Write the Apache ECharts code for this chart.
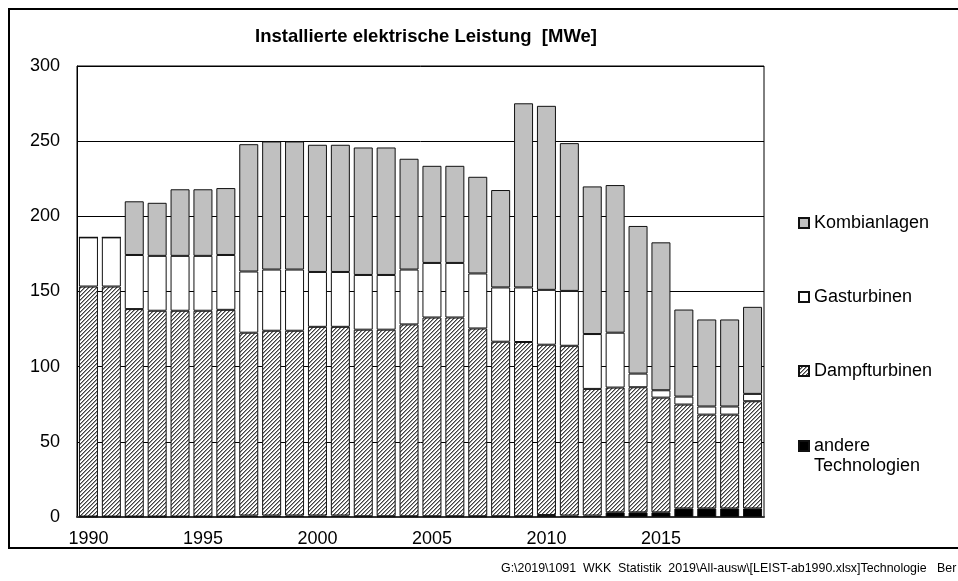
<!DOCTYPE html>
<html>
<head>
<meta charset="utf-8">
<script src="https://cdn.jsdelivr.net/npm/echarts@6/dist/echarts.min.js"></script>
<style>
  html, body { margin: 0; padding: 0; background: #fff; }
  #main { width: 958px; height: 581px; }
</style>
</head>
<body>
<div id="main"></div>
<script>
// Jahre
var years = [];
for (var y = 1990; y <= 2019; y++) years.push(String(y));

// installierte Leistung [MWe] nach Technologie
var andere = [0.3, 0.3, 0.3, 0.3, 0.3, 0.3, 0.3, 1.0, 1.0, 1.0, 1.0, 1.0, 0.5, 0.5, 0.5,
    0.5, 0.5, 0.5, 0.5, 0.5, 1.3, 1.0, 1.0, 3.1, 3.1, 3.1, 5.7, 5.7, 5.7, 5.7];
var dampf = [153.0, 153.0, 138.0, 136.9, 136.9, 136.9, 137.5, 121.6, 122.9, 122.9, 125.5, 125.5, 124.1, 124.1, 127.6,
    132.2, 132.2, 124.9, 116.1, 115.9, 113.3, 112.9, 84.2, 83.0, 83.2, 76.3, 69.1, 62.4, 62.4, 71.3];
var gas = [32.7, 32.7, 36.0, 36.5, 36.5, 36.5, 36.5, 40.7, 40.7, 40.7, 36.5, 36.5, 36.4, 36.4, 36.5,
    36.3, 36.3, 36.6, 36.1, 36.3, 36.5, 36.5, 36.5, 36.5, 9.1, 4.9, 5.3, 5.4, 5.4, 4.9];
var kombi = [0, 0, 35.7, 35.3, 44.3, 44.3, 44.5, 84.7, 85.2, 85.2, 84.6, 84.6, 84.8, 84.8, 73.7,
    64.6, 64.6, 64.3, 64.8, 122.5, 122.4, 98.3, 98.2, 98.2, 98.2, 98.4, 57.9, 57.9, 57.9, 57.9];

// Schraffur fuer Dampfturbinen
var hatch = document.createElement('canvas');
hatch.width = 4;
hatch.height = 4;
var hc = hatch.getContext('2d');
hc.fillStyle = '#ffffff';
hc.fillRect(0, 0, 4, 4);
for (var i = 0; i < 4; i++) {
    hc.fillStyle = '#404040';
    hc.fillRect(3 - i, i, 1, 1);
    hc.fillStyle = '#9a9a9a';
    hc.fillRect((4 - i) % 4, i, 1, 1);
}

var font = 'Liberation Sans, Arial, sans-serif';
var barW = 19;

function bar(name, data, color) {
    return {
        name: name,
        type: 'bar',
        stack: 'total',
        barWidth: barW,
        data: data,
        itemStyle: { color: color, borderColor: '#111', borderWidth: 1 }
    };
}

function legendItem(name, top, fmt) {
    var l = {
        data: [name],
        left: 798,
        top: top,
        padding: 0,
        icon: 'rect',
        itemWidth: 10,
        itemHeight: 10,
        selectedMode: false,
        textStyle: { fontFamily: font, fontSize: 18, color: '#000' }
    };
    if (fmt) {
        l.formatter = fmt;
        l.textStyle.lineHeight = 20;
    }
    return l;
}

var option = {
    animation: false,
    backgroundColor: '#fff',
    title: {
        text: 'Installierte elektrische Leistung  [MWe]',
        left: 421,
        top: 22,
        textAlign: 'center',
        textStyle: { fontFamily: font, fontSize: 18.5, fontWeight: 'bold', color: '#000' }
    },
    legend: [
        legendItem('Kombianlagen', 214),
        legendItem('Gasturbinen', 288),
        legendItem('Dampfturbinen', 362),
        // leere erste Zeile, damit das Symbol auf Hoehe von "andere" steht
        legendItem('andere Technologien', 416, function () { return ' \nandere\nTechnologien'; })
    ],
    grid: {
        left: 77,
        top: 66,
        width: 687,
        height: 451,
        show: true,
        borderColor: '#000',
        borderWidth: 1
    },
    xAxis: {
        type: 'category',
        data: years,
        axisLine: { lineStyle: { color: '#333', width: 2 } },
        axisTick: { show: false },
        axisLabel: {
            interval: function (idx) { return idx % 5 === 0; },
            fontFamily: font,
            fontSize: 18,
            color: '#000',
            margin: 13
        }
    },
    yAxis: {
        type: 'value',
        min: 0,
        max: 300,
        interval: 50,
        axisLine: { show: true, lineStyle: { color: '#000' } },
        axisTick: { show: false },
        splitLine: { lineStyle: { color: '#000', width: 1 } },
        axisLabel: { fontFamily: font, fontSize: 18, color: '#000', margin: 17 }
    },
    series: [
        bar('andere Technologien', andere, '#000'),
        bar('Dampfturbinen', dampf, { image: hatch, repeat: 'repeat' }),
        bar('Gasturbinen', gas, '#fff'),
        bar('Kombianlagen', kombi, '#c0c0c0')
    ],
    graphic: [
        {
            type: 'rect',
            shape: { x: 9, y: 9, width: 960, height: 539 },
            style: { fill: null, stroke: '#000', lineWidth: 2 },
            silent: true
        },
        {
            type: 'text',
            left: 501,
            top: 563,
            style: {
                text: 'G:\\2019\\1091  WKK  Statistik  2019\\All-ausw\\[LEIST-ab1990.xlsx]Technologie   Ber',
                fontFamily: font,
                fontSize: 12.4,
                fill: '#000'
            }
        }
    ]
};

var myChart = echarts.init(document.getElementById('main'));
myChart.setOption(option);
</script>
</body>
</html>
